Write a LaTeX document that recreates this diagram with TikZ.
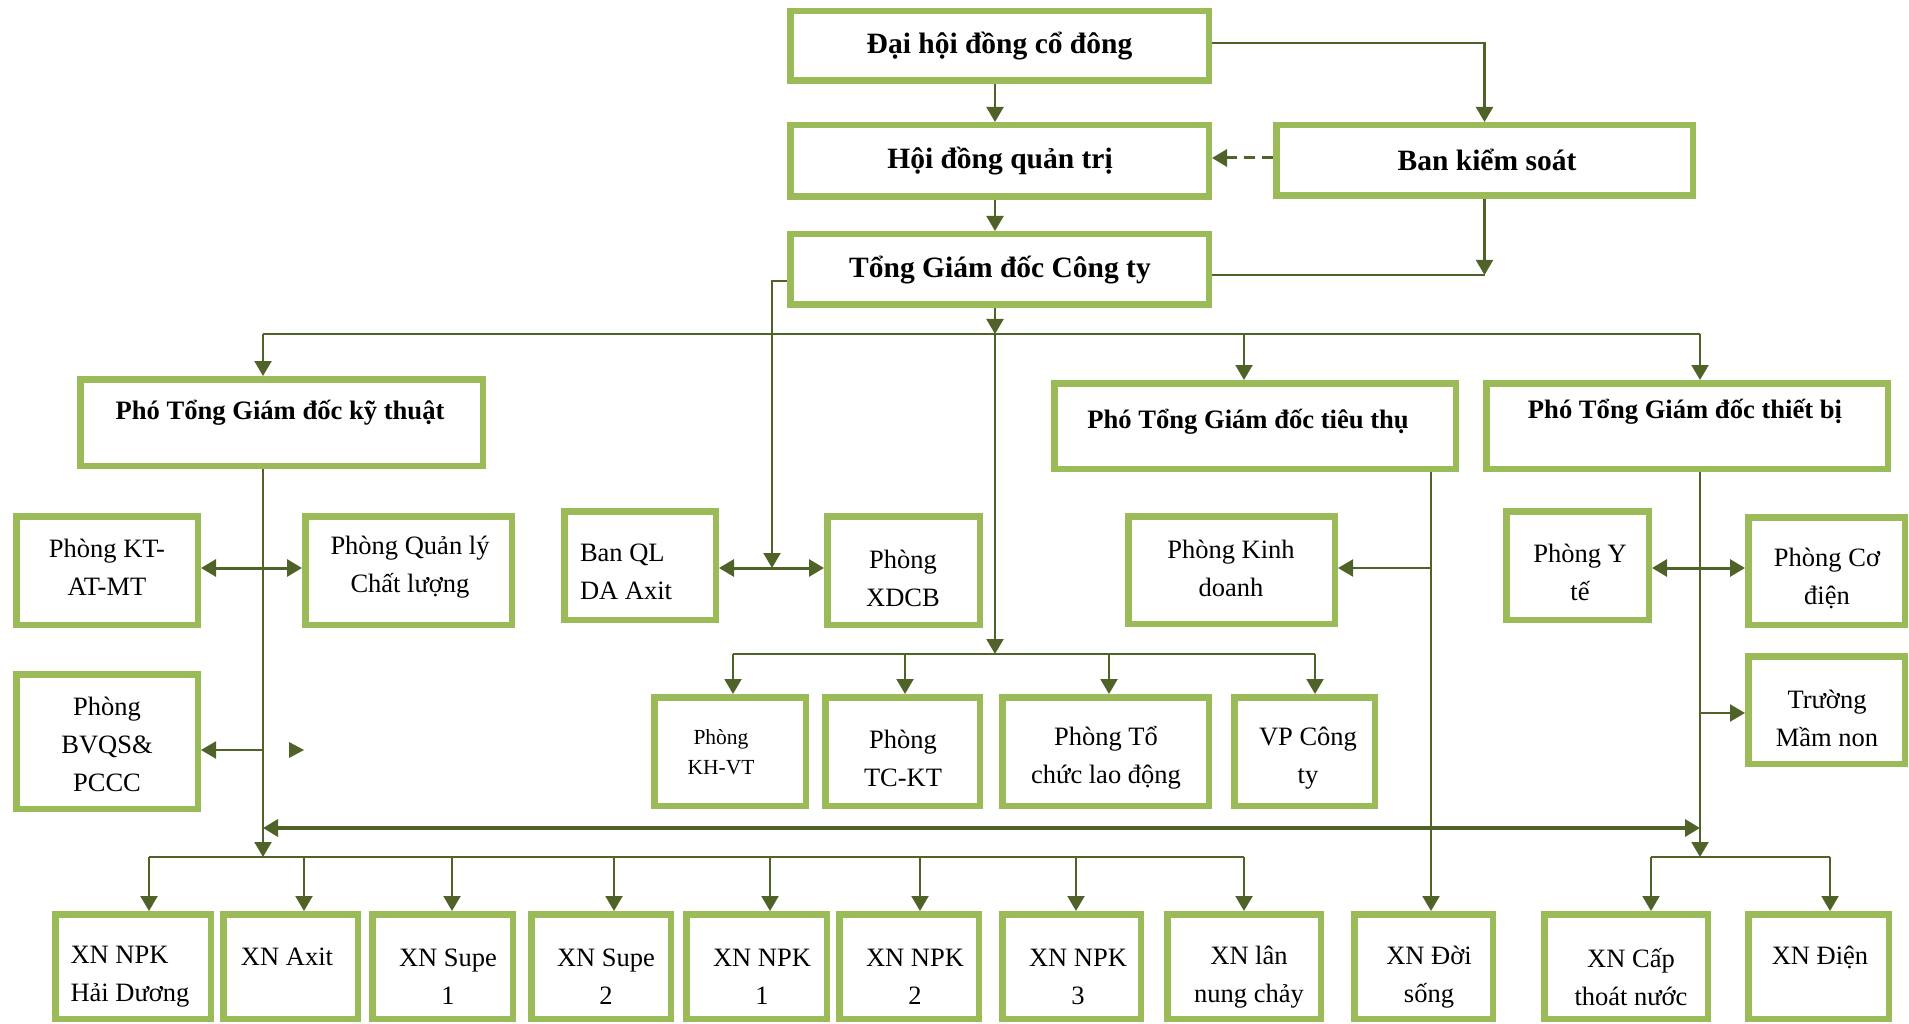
\documentclass[tikz,border=0pt]{standalone}
\usepackage{fontspec}
\setmainfont{Liberation Serif}
\usetikzlibrary{arrows.meta}
\definecolor{boxg}{HTML}{9BBB59}
\definecolor{lineg}{HTML}{4F6228}
\tikzset{
  box/.style={draw=boxg, line width=6.5pt, fill=white, rectangle, inner sep=0pt},
  txt/.style={align=center, inner sep=0pt, font=\fontsize{26.5}{38}\selectfont},
  txtl/.style={align=left, inner sep=0pt, font=\fontsize{26.5}{38}\selectfont},
  smalltxt/.style={align=center, inner sep=0pt, font=\fontsize{21.5}{30}\selectfont},
  hbig/.style={align=center, inner sep=0pt, font=\fontsize{29.5}{36}\selectfont\bfseries},
  hmid/.style={align=center, inner sep=0pt, font=\fontsize{26.6}{32}\selectfont\bfseries},
  ln/.style={draw=lineg, line width=2.2pt},
  arr/.style={ln, -{Triangle[length=15pt,width=17pt]}},
  darr/.style={ln, line width=3pt, {Triangle[length=15pt,width=17pt]}-{Triangle[length=15pt,width=17pt]}},
}
% name, left, right, top, bottom
\newcommand\mybox[5]{\node[box, minimum width={#3-#2-6.5}, minimum height={#5-#4-6.5}] (#1) at ({(#2+#3)/2},{(#4+#5)/2}) {};}
\begin{document}
\begin{tikzpicture}[x=1pt,y=-1pt]
\useasboundingbox (0,0) rectangle (1909,1024);
% ---------- boxes ----------
\mybox{dh}{787}{1212}{8}{84}
\mybox{hd}{787}{1212}{122}{200}
\mybox{bks}{1273}{1696}{122}{199}
\mybox{tgd}{787}{1212}{231}{308}
\mybox{pkt}{77}{486}{376}{469}
\mybox{ptt}{1051}{1459}{380}{472}
\mybox{ptb}{1483}{1891}{380}{472}
\mybox{ktat}{13}{201}{513}{628}
\mybox{qlcl}{302}{515}{513}{628}
\mybox{bvqs}{13}{201}{671}{812}
\mybox{banql}{561}{719}{508}{623}
\mybox{xdcb}{824}{983}{513}{628}
\mybox{pkd}{1125}{1338}{513}{627}
\mybox{yte}{1503}{1652}{508}{623}
\mybox{codien}{1745}{1908}{514}{628}
\mybox{mamnon}{1745}{1908}{653}{767}
\mybox{khvt}{651}{809}{694}{809}
\mybox{tckt}{822}{983}{694}{809}
\mybox{tcld}{999}{1212}{694}{809}
\mybox{vp}{1231}{1378}{694}{809}
\mybox{b1}{52}{214}{911}{1022}
\mybox{b2}{220}{361}{911}{1022}
\mybox{b3}{369}{516}{911}{1022}
\mybox{b4}{528}{674}{911}{1022}
\mybox{b5}{683}{830}{911}{1022}
\mybox{b6}{836}{982}{911}{1022}
\mybox{b7}{999}{1144}{911}{1022}
\mybox{b8}{1164}{1324}{911}{1022}
\mybox{b9}{1351}{1496}{911}{1022}
\mybox{b10}{1541}{1711}{911}{1022}
\mybox{b11}{1745}{1892}{911}{1022}
% ---------- texts ----------
\node[hbig] (dh-t) at (999.5,46) {Đại hội đồng cổ đông};
\node[hbig] (hd-t) at (1000,161) {Hội đồng quản trị};
\node[hbig] (bks-t) at (1487,160) {Ban kiểm soát};
\node[hbig] (tgd-t) at (1000,270) {Tổng Giám đốc Công ty};
\node[hmid] (pkt-t) at (280,413) {Phó Tổng Giám đốc kỹ thuật};
\node[hmid] (ptt-t) at (1248,422) {Phó Tổng Giám đốc tiêu thụ};
\node[hmid] (ptb-t) at (1685,412) {Phó Tổng Giám đốc thiết bị};
\node[txt] (ktat-t) at (107,567) {Phòng KT-\\AT-MT};
\node[txt] (qlcl-t) at (410,567) {Phòng Quản lý\\Chất lượng};
\node[txt] (bvqs-t) at (107,744) {Phòng\\BVQS\&\\PCCC};
\node[txtl] (banql-t) at (626,572) {Ban QL\\DA Axit};
\node[txt] (xdcb-t) at (903,578) {Phòng\\XDCB};
\node[txt] (pkd-t) at (1231,568) {Phòng Kinh\\doanh};
\node[txt] (yte-t) at (1580,572) {Phòng Y\\tế};
\node[txt] (codien-t) at (1827,578) {Phòng Cơ\\điện};
\node[txt] (mamnon-t) at (1827,718) {Trường\\Mầm non};
\node[smalltxt] (khvt-t) at (721,752) {Phòng\\KH-VT};
\node[txt] (tckt-t) at (903,758) {Phòng\\TC-KT};
\node[txt] (tcld-t) at (1106,758) {Phòng Tổ\\chức lao động};
\node[txt] (vp-t) at (1308,758) {VP Công\\ty};
\node[txtl] (b1-t) at (130,977) {XN NPK\\Hải Dương};
\node[txt] (b2-t) at (287,957) {XN Axit};
\node[txt] (b3-t) at (448,977) {XN Supe\\1};
\node[txt] (b4-t) at (606,977) {XN Supe\\2};
\node[txt] (b5-t) at (762,977) {XN NPK\\1};
\node[txt] (b6-t) at (915,977) {XN NPK\\2};
\node[txt] (b7-t) at (1078,977) {XN NPK\\3};
\node[txt] (b8-t) at (1249,977) {XN lân\\nung chảy};
\node[txt] (b9-t) at (1429,977) {XN Đời\\sống};
\node[txt] (b10-t) at (1631,977) {XN Cấp\\thoát nước};
\node[txt] (b11-t) at (1820,957) {XN Điện};
% ---------- coordinates ----------
\coordinate (jk) at (1484.5,275);
\coordinate (tw) at (772,281);
\coordinate (dq) at (772,568);
\coordinate (c0) at (995,334);
\coordinate (bL) at (263,334);
\coordinate (bT) at (1244,334);
\coordinate (bR) at (1700,334);
\coordinate (c1) at (995,654);
\coordinate (m1) at (733,654);
\coordinate (m2) at (905,654);
\coordinate (m3) at (1109,654);
\coordinate (m4) at (1315,654);
\coordinate (kd) at (263,568);
\coordinate (kq) at (263,750);
\coordinate (kb) at (263,857);
\coordinate (lb1) at (263,828);
\coordinate (lb2) at (1700,828);
\coordinate (q1) at (149,857);
\coordinate (q2) at (304,857);
\coordinate (q3) at (452,857);
\coordinate (q4) at (614,857);
\coordinate (q5) at (770,857);
\coordinate (q6) at (920,857);
\coordinate (q7) at (1076,857);
\coordinate (q8) at (1244,857);
\coordinate (vt) at (1431,568);
\coordinate (vy) at (1700,568);
\coordinate (vm) at (1700,713);
\coordinate (vb) at (1700,857);
\coordinate (r1) at (1651,857);
\coordinate (r2) at (1830,857);
% ---------- connectors ----------
\draw[arr] (dh.south -| c0) -- (hd.north -| c0);
\draw[arr] (dh.east |- 0,43) -| (bks.north);
\draw[arr, line width=3pt, dash pattern=on 11pt off 7pt] (bks.west |- 0,158) -- (hd.east |- 0,158);
\draw[arr] (hd.south -| c0) -- (tgd.north -| c0);
\draw[arr] (bks.south) -- (jk);
\draw[ln] (tgd.east |- jk) -- (jk);
\draw[arr] (tw -| tgd.west) -- (tw) -- (dq);
\draw[darr] (dq -| banql.east) -- (dq -| xdcb.west);
% top bus
\draw[arr] (tgd.south -| c0) -- (c0);
\draw[ln] (bL) -- (bR);
\draw[arr] (bL) -- (bL |- pkt.north);
\draw[arr] (bT) -- (bT |- ptt.north);
\draw[arr] (bR) -- (bR |- ptb.north);
% centre branch
\draw[arr] (c0) -- (c1);
\draw[ln] (m1) -- (m4);
\draw[arr] (m1) -- (m1 |- khvt.north);
\draw[arr] (m2) -- (m2 |- tckt.north);
\draw[arr] (m3) -- (m3 |- tcld.north);
\draw[arr] (m4) -- (m4 |- vp.north);
% technical branch
\draw[arr] (pkt.south -| kb) -- (kb);
\draw[darr] (kd -| ktat.east) -- (kd -| qlcl.west);
\draw[arr] (kq) -- (kq -| bvqs.east);
\fill[lineg] (289,742) -- (304,750) -- (289,758) -- cycle;
\draw[darr, line width=3.4pt] (lb1) -- (lb2);
\draw[ln] (q1) -- (q8);
\draw[arr] (q1) -- (q1 |- b1.north);
\draw[arr] (q2) -- (q2 |- b2.north);
\draw[arr] (q3) -- (q3 |- b3.north);
\draw[arr] (q4) -- (q4 |- b4.north);
\draw[arr] (q5) -- (q5 |- b5.north);
\draw[arr] (q6) -- (q6 |- b6.north);
\draw[arr] (q7) -- (q7 |- b7.north);
\draw[arr] (q8) -- (q8 |- b8.north);
% sales branch
\draw[arr] (ptt.south -| vt) -- (vt |- b9.north);
\draw[arr] (vt) -- (vt -| pkd.east);
% equipment branch
\draw[arr] (ptb.south -| vb) -- (vb);
\draw[darr] (vy -| yte.east) -- (vy -| codien.west);
\draw[arr] (vm) -- (vm -| mamnon.west);
\draw[ln] (r1) -- (r2);
\draw[arr] (r1) -- (r1 |- b10.north);
\draw[arr] (r2) -- (r2 |- b11.north);
\end{tikzpicture}
\end{document}
